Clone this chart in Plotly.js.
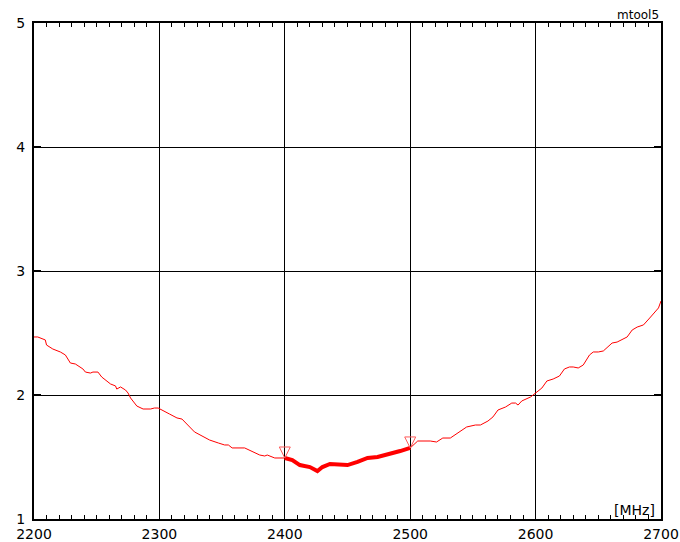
<!DOCTYPE html>
<html>
<head>
<meta charset="utf-8">
<script src="https://cdn.plot.ly/plotly-3.0.1.min.js"></script>
<style>html,body{margin:0;padding:0;background:#fff;}#chart{width:680px;height:542px;}</style>
</head>
<body>
<div id="chart"></div>
<script>
// Full sweep (thin line)
const freqAll = [2200,2203,2209,2210,2215,2221,2225,2229,2233,2239,2241,2245,2247,2251,2254,2261,2265,2266,2269,2273,2275,2277,2282,2287,2293,2296,2299,2303,2308,2314,2318,2328,2334,2340,2347,2352,2355,2358,2368,2375,2380,2384,2386,2392,2400,2406,2412,2420,2426,2430,2436,2444,2450,2458,2466,2474,2482,2486,2492,2500,2506,2516,2521,2526,2532,2537,2545,2552,2556,2562,2566,2570,2576,2581,2584,2586,2589,2596,2600,2605,2609,2614,2619,2623,2627,2630,2634,2638,2643,2646,2650,2654,2661,2665,2673,2677,2681,2686,2691,2695,2698,2700];
const vswrAll = [2.468,2.468,2.444,2.403,2.371,2.347,2.323,2.258,2.250,2.210,2.185,2.177,2.185,2.185,2.145,2.089,2.073,2.048,2.065,2.040,2.016,1.976,1.911,1.887,1.887,1.895,1.895,1.871,1.847,1.815,1.806,1.702,1.669,1.637,1.613,1.597,1.597,1.573,1.573,1.540,1.516,1.508,1.516,1.492,1.492,1.476,1.435,1.419,1.387,1.419,1.444,1.435,1.435,1.460,1.492,1.500,1.516,1.532,1.548,1.573,1.629,1.629,1.621,1.653,1.653,1.685,1.742,1.758,1.758,1.790,1.823,1.879,1.903,1.935,1.935,1.919,1.952,1.984,2.016,2.056,2.113,2.129,2.153,2.210,2.226,2.226,2.218,2.242,2.323,2.347,2.347,2.355,2.419,2.427,2.468,2.524,2.548,2.565,2.621,2.669,2.702,2.758];
// Band limits (markers)
const markerFreq = [2400, 2500];
const markerVal = [1.492, 1.573];
const xTicks = [2200,2300,2400,2500,2600,2700];
const yTicks = [1,2,3,4,5];

// In-band segment (thick line) taken from the full sweep
const bandF = [], bandV = [];
freqAll.forEach((f,i)=>{ if (f>=markerFreq[0] && f<=markerFreq[1]) { bandF.push(f); bandV.push(vswrAll[i]); } });

const FONT = "DejaVu Sans, Verdana, sans-serif";
const traces = [
  {x: freqAll, y: vswrAll, mode:'lines', line:{color:'#ff0000', width:1}, hoverinfo:'skip'},
  {x: bandF, y: bandV, mode:'lines', line:{color:'#ff0000', width:4}, hoverinfo:'skip'}
];

// Open down-pointing triangles whose tip sits on the band-edge points
const shapes = markerFreq.map((f,i)=>({
  type:'path', xref:'x', yref:'y', xsizemode:'pixel', ysizemode:'pixel',
  xanchor: f, yanchor: markerVal[i],
  path:'M -5.5,11 L 5.5,11 L 0,0 Z',
  line:{color:'#ff5a5a', width:1}, fillcolor:'rgba(0,0,0,0)'
}));

const annotations = [];
annotations.push({xref:'paper', yref:'paper', x:1, y:1, xanchor:'right', yanchor:'bottom', yshift:-1,
  text:'mtool5', showarrow:false, font:{family:FONT, size:12, color:'#000'}});
annotations.push({xref:'paper', yref:'paper', x:1, y:0, xanchor:'right', yanchor:'bottom', xshift:-4, yshift:-1,
  text:'[MHz]', showarrow:false, font:{family:FONT, size:14, color:'#000'}});

const layout = {
  width:680, height:542,
  margin:{l:34, r:19, t:23, b:23, pad:0},
  paper_bgcolor:'#fff', plot_bgcolor:'#fff',
  showlegend:false,
  xaxis:{range:[2200,2700], tickvals:xTicks, ticktext:xTicks.map(String),
    showgrid:true, gridcolor:'#000', gridwidth:1, zeroline:false,
    showline:true, linecolor:'#000', linewidth:2, mirror:'allticks',
    ticks:'inside', ticklen:6, tickwidth:1, tickcolor:'#000',
    minor:{dtick:10, tick0:2200, ticks:'inside', ticklen:4, tickwidth:1, tickcolor:'#000', showgrid:false},
    tickfont:{family:FONT, size:14, color:'#000'}, ticklabelstandoff:1, ticklabeloverflow:'allow'},
  yaxis:{range:[1,5], tickvals:yTicks, ticktext:yTicks.map(String),
    showgrid:true, gridcolor:'#000', gridwidth:1, zeroline:false,
    showline:true, linecolor:'#000', linewidth:2, mirror:'allticks',
    ticks:'inside', ticklen:7, tickwidth:2, tickcolor:'#000',
    tickfont:{family:FONT, size:14, color:'#000'}, ticklabelstandoff:4, ticklabeloverflow:'allow'},
  shapes: shapes,
  annotations: annotations
};
Plotly.newPlot('chart', traces, layout, {displayModeBar:false, staticPlot:true});
</script>
</body>
</html>
